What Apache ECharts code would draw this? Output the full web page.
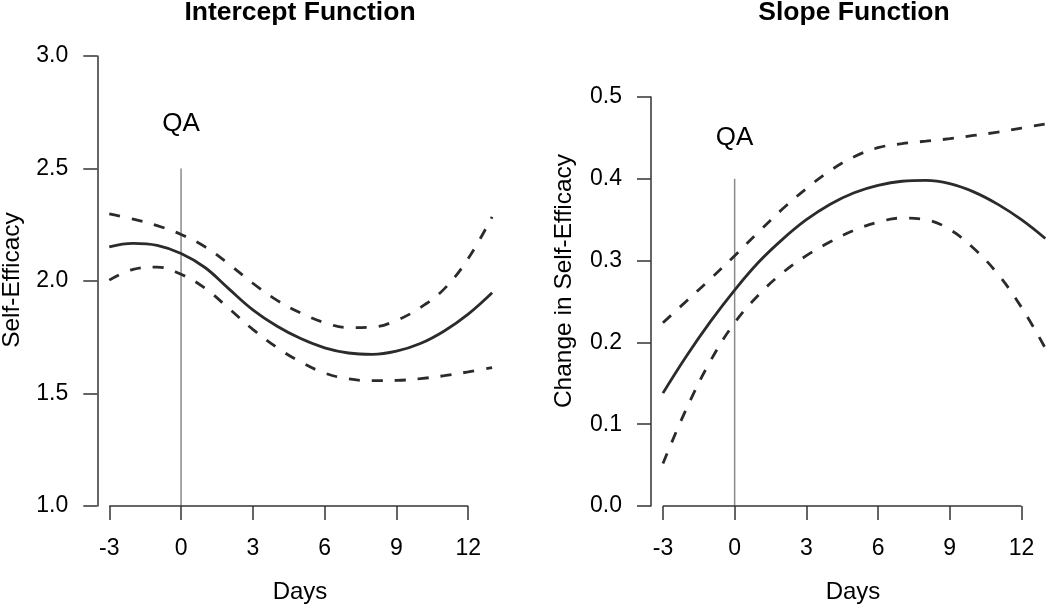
<!DOCTYPE html>
<html>
<head>
<meta charset="utf-8">
<script src="https://cdn.jsdelivr.net/npm/echarts@6/dist/echarts.min.js"></script>
<style>
html,body{margin:0;padding:0;background:#fff;}
#chart{width:1050px;height:607px;}
</style>
</head>
<body>
<div id="chart"></div>
<script>
// ---- data ----
const days = [-3,-2,-1,0,1,2,3,4,5,6,7,8,9,10,11,12,13];
const xTicks = [-3,0,3,6,9,12];

const interceptEst   = [2.152,2.167,2.158,2.122,2.060,1.965,1.872,1.800,1.744,1.703,1.680,1.674,1.688,1.722,1.778,1.853,1.948];
const interceptUpper = [2.298,2.275,2.246,2.207,2.152,2.075,1.990,1.915,1.858,1.815,1.793,1.795,1.825,1.882,1.965,2.100,2.285];
const interceptLower = [2.004,2.052,2.062,2.030,1.968,1.878,1.785,1.705,1.640,1.591,1.565,1.557,1.558,1.566,1.579,1.596,1.615];
const interceptYTicks = [1.0,1.5,2.0,2.5,3.0];

const slopeEst   = [0.138,0.184,0.226,0.264,0.298,0.326,0.350,0.369,0.383,0.392,0.397,0.398,0.394,0.384,0.369,0.350,0.327];
const slopeUpper = [0.224,0.251,0.278,0.306,0.335,0.363,0.388,0.410,0.427,0.438,0.443,0.446,0.449,0.453,0.457,0.462,0.467];
const slopeLower = [0.052,0.120,0.178,0.224,0.258,0.285,0.306,0.323,0.337,0.347,0.352,0.350,0.338,0.315,0.284,0.243,0.193];
const slopeYTicks = [0.0,0.1,0.2,0.3,0.4,0.5];

const qaDay = 0;
const interceptQA = {lineTop: 2.5, labelY: 2.7};
const slopeQA = {lineTop: 0.4, labelY: 0.45};

const titles = ['Intercept Function', 'Slope Function'];
const yNames = ['Self-Efficacy', 'Change in Self-Efficacy'];
const xName = 'Days';

// ---- styling ----
const FONT = 'Liberation Sans, Arial, Helvetica, sans-serif';
const LINE_COLOR = '#2b2b2b';
const AXIS_COLOR = '#333';

const chart = echarts.init(document.getElementById('chart'), null, {renderer: 'canvas'});

function pairs(xs, ys){ return xs.map((x,i)=>[x, ys[i]]); }

function yAxisCfg(gi, ticks){
  return {
    gridIndex: gi, type: 'value',
    min: ticks[0], max: ticks[ticks.length-1], interval: ticks[1]-ticks[0],
    axisLine: {show: true, onZero: false, lineStyle: {color: AXIS_COLOR, width: 1.5}},
    axisTick: {show: true, length: 14, lineStyle: {color: AXIS_COLOR, width: 1.5}},
    axisLabel: {margin: 29, fontSize: 23, color: '#000', fontFamily: FONT,
      formatter: v => v.toFixed(1)},
    splitLine: {show: false}
  };
}
function xAxisCfg(gi){
  return {
    gridIndex: gi, type: 'value', min: -3.5, max: 13.2,
    axisLine: {show: false, onZero: false},
    axisTick: {show: true, length: 14, customValues: xTicks, lineStyle: {color: AXIS_COLOR, width: 1.5}},
    axisLabel: {customValues: xTicks, margin: 31, fontSize: 23, color: '#000', fontFamily: FONT},
    splitLine: {show: false}
  };
}

function panelSeries(gi, est, up, lo, yTicks, qa){
  const yMin = yTicks[0];
  const common = {xAxisIndex: gi, yAxisIndex: gi, showSymbol: false, symbol: 'none', silent: true, animation: false};
  const dashed = {color: LINE_COLOR, width: 2.8, type: [11, 12], cap: 'butt'};
  return [
    Object.assign({}, common, {type: 'line', data: [[qaDay, qa.lineTop],[qaDay, yMin]],
      lineStyle: {color: '#8a8a8a', width: 1.5}, clip: false, z: 1}),
    Object.assign({}, common, {type: 'line', data: [[xTicks[0], yMin],[xTicks[xTicks.length-1], yMin]],
      lineStyle: {color: AXIS_COLOR, width: 1.5}, clip: false, z: 1}),
    Object.assign({}, common, {type: 'line', data: pairs(days, up), smooth: 0.4,
      lineStyle: dashed, z: 3}),
    Object.assign({}, common, {type: 'line', data: pairs(days, lo), smooth: 0.4,
      lineStyle: dashed, z: 3}),
    Object.assign({}, common, {type: 'line', data: pairs(days, est), smooth: 0.4,
      lineStyle: {color: LINE_COLOR, width: 2.8}, z: 4}),
    {type: 'scatter', xAxisIndex: gi, yAxisIndex: gi, data: [[qaDay, qa.labelY]], symbolSize: 1,
      itemStyle: {color: 'transparent', opacity: 1}, silent: true, animation: false,
      label: {show: true, position: 'inside', formatter: 'QA', fontSize: 26, color: '#000',
        textBorderWidth: 0, opacity: 1, fontFamily: FONT}}
  ];
}

function txt(text, x, y, size, bold, rot){
  return {type: 'text', x: x, y: y, rotation: rot || 0, silent: true,
    style: {text: text, fill: '#000', font: (bold ? 'bold ' : '') + size + 'px ' + FONT,
      textAlign: 'center', textVerticalAlign: 'middle'}};
}

const option = {
  backgroundColor: '#fff',
  animation: false,
  grid: [
    {left: 97.3, top: 56, width: 399.6, height: 450, containLabel: false, outerBoundsMode: 'none'},
    {left: 651, top: 97, width: 399.1, height: 409, containLabel: false, outerBoundsMode: 'none'}
  ],
  xAxis: [xAxisCfg(0), xAxisCfg(1)],
  yAxis: [yAxisCfg(0, interceptYTicks), yAxisCfg(1, slopeYTicks)],
  series: [].concat(
    panelSeries(0, interceptEst, interceptUpper, interceptLower, interceptYTicks, interceptQA),
    panelSeries(1, slopeEst, slopeUpper, slopeLower, slopeYTicks, slopeQA)
  ),
  graphic: [
    txt(titles[0], 300, 12.5, 26.5, true),
    txt(titles[1], 854, 12.5, 26.5, true),
    txt(yNames[0], 12, 280, 24.5, false, Math.PI/2),
    txt(yNames[1], 564, 281, 24.5, false, Math.PI/2),
    txt(xName, 300, 592, 24, false),
    txt(xName, 853, 592, 24, false)
  ]
};
chart.setOption(option);
</script>
</body>
</html>
